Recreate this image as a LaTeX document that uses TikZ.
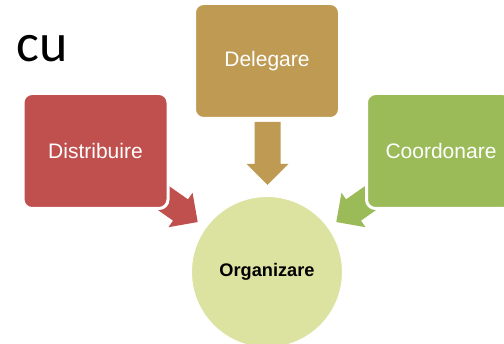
\documentclass[tikz,border=0pt]{standalone}
\usepackage{fontspec}
\setmainfont{Liberation Sans}
\newfontfamily\cufont{Carlito}
\definecolor{cred}{HTML}{C0504D}
\definecolor{cgold}{HTML}{BE9A52}
\definecolor{cgreen}{HTML}{9BBB59}
\definecolor{ccirc}{HTML}{DCE29F}
\tikzset{
  box/.style={draw=white, line width=3pt, rounded corners=9pt, minimum width=145pt, minimum height=115pt, inner sep=0pt, text=white, font=\fontsize{21}{25}\selectfont},
  blockarrow/.pic={\fill (-42,-13) -- (0,-13) -- (0,-21) -- (21,0) -- (0,21) -- (0,13) -- (-42,13) -- cycle;}
}
\begin{document}
\begin{tikzpicture}[x=1pt,y=-1pt]
\useasboundingbox (0,0) rectangle (504,344);
\clip (0,0) rectangle (504,344);
\node[font=\cufont\fontsize{54}{60}\selectfont, anchor=base west, inner sep=0pt] (cu) at (16,62) {cu};
% block arrows
\pic[fill=cred] at (180.5,210) [rotate=-35] {blockarrow};
\pic[fill=cgreen] at (353.5,210) [rotate=215] {blockarrow};
\pic[fill=cgold] at (267.5,164) [rotate=-90] {blockarrow};
% boxes
\node[box, fill=cred] (dist) at (95.5,151) {Distribuire};
\node[box, fill=cgold] (deleg) at (267,61) {Delegare};
\node[box, fill=cgreen] (coord) at (439,151) {\hspace*{4pt}Coordonare};
\node[circle, fill=ccirc, draw=white, line width=1pt, minimum size=151pt, inner sep=0pt, font=\bfseries\fontsize{18.2}{22}\selectfont] (org) at (267,272) {Organizare};
\end{tikzpicture}
\end{document}
